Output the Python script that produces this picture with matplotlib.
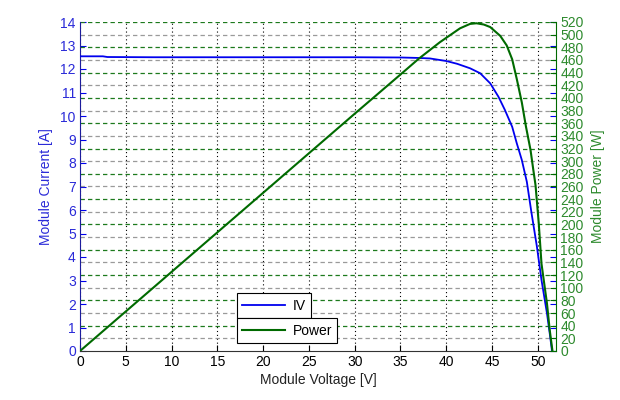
import matplotlib
matplotlib.use('Agg')
import matplotlib.pyplot as plt
from matplotlib.transforms import blended_transform_factory
from matplotlib.lines import Line2D

plt.rcParams['font.family'] = ['Liberation Sans', 'DejaVu Sans']
plt.rcParams['font.size'] = 10

# ---- data ----
iv_voltage = [0, 2.5, 3, 8, 15, 20, 25, 30, 35, 37, 38.2, 40, 41.2, 42.6, 43.7,
              44.8, 45.7, 46.4, 47.2, 47.7, 48.25, 48.8, 49.3, 49.9, 50.4, 51.0,
              51.3, 51.55]
iv_current = [12.54, 12.54, 12.51, 12.50, 12.50, 12.50, 12.50, 12.50, 12.49, 12.47,
              12.45, 12.34, 12.22, 12.03, 11.82, 11.39, 10.82, 10.26, 9.54, 8.84,
              8.13, 7.2, 5.9, 4.44, 3.02, 1.6, 0.75, 0.0]

p_voltage = [0, 1, 3, 5, 10, 15, 20, 25, 30, 35, 37, 39.3, 41.5, 42.6, 43.3, 44.1,
             44.8, 45.9, 46.6, 47.2, 47.7, 48.25, 48.7, 49.2, 49.5, 49.75, 50.1,
             50.4, 51.0, 51.3, 51.6]
p_power = [0, 12.5, 37.5, 62.5, 125, 187.5, 250, 312.5, 375, 437, 462, 488, 510,
           517, 518, 516, 512, 498, 483, 461, 430, 393, 355, 318, 287, 262, 202,
           138, 75, 33, 0]

x_ticks = [0, 5, 10, 15, 20, 25, 30, 35, 40, 45, 50]
current_ticks = [0, 1, 2, 3, 4, 5, 6, 7, 8, 9, 10, 11, 12, 13, 14]
power_ticks = [0, 20, 40, 60, 80, 100, 120, 140, 160, 180, 200, 220, 240, 260,
               280, 300, 320, 340, 360, 380, 400, 420, 440, 460, 480, 500, 520]

x_label = 'Module Voltage [V]'
y_left_label = 'Module Current [A]'
y_right_label = 'Module Power [W]'
legend_iv = 'IV'
legend_power = 'Power'

# ---- styling ----
BLUE = '#0000ee'
BLUE_TXT = '#2a2ad8'
GREEN = '#006a00'
GREEN_TXT = '#2d8a2d'
GRID_GREEN = '#1d7a1d'
GRID_GREY = '#9a9a9a'
FS = 10

fig = plt.figure(figsize=(6.2, 4.0), dpi=100)
ax = fig.add_axes([0.129, 0.1225, 0.768, 0.8225])
ax2 = ax.twinx()

ax.set_xlim(0, 52)
ax.set_ylim(0, 14)
ax2.set_ylim(0, 520)

# horizontal grid (right-axis ticks), drawn on the left axes so the IV line sits on top
trans = blended_transform_factory(ax.transAxes, ax2.transData)
for w in power_ticks[1:]:
    col = GRID_GREEN if w % 40 == 0 else GRID_GREY
    ax.plot([0, 1], [w, w], transform=trans, color=col, lw=0.9,
            linestyle=(0, (3.5, 2.5)), zorder=1)

# vertical grid
ax.set_xticks(x_ticks)
ax.grid(axis='x', color='black', linestyle=(0, (1, 2.5)), linewidth=0.8, zorder=1)
ax.set_axisbelow(True)

ax.plot(iv_voltage, iv_current, color=BLUE, lw=1.3, zorder=3)
ax2.plot(p_voltage, p_power, color=GREEN, lw=1.5, zorder=3)

# ticks
ax.set_yticks(current_ticks)
ax2.set_yticks(power_ticks)
ax.tick_params(axis='x', direction='in', length=4, colors='black', labelsize=FS, pad=3)
ax.tick_params(axis='y', direction='in', length=4, color=BLUE, labelcolor=BLUE_TXT,
               labelsize=FS, pad=3, left=True, right=True)
ax2.tick_params(axis='y', direction='in', length=4, color=GREEN, labelcolor=GREEN_TXT,
                labelsize=FS, pad=3)

# spines
ax.spines['top'].set_visible(False)
ax.spines['right'].set_visible(False)
ax.spines['left'].set_color('#1c1c9c')
ax.spines['bottom'].set_color('#333333')
for s in ('top', 'left', 'bottom'):
    ax2.spines[s].set_visible(False)
ax2.spines['right'].set_color(GREEN)

ax.set_xlabel(x_label, fontsize=FS, color='#222222', labelpad=3)
ax.set_ylabel(y_left_label, fontsize=FS, color=BLUE_TXT, labelpad=5)
ax2.set_ylabel(y_right_label, fontsize=FS, color=GREEN_TXT, labelpad=5)

# two separate legend boxes
common = dict(loc='upper left', bbox_transform=fig.transFigure, frameon=True,
              fancybox=False, edgecolor='black', framealpha=1, borderaxespad=0,
              handlelength=3.1, handletextpad=0.5, borderpad=0.4, fontsize=FS)
leg1 = ax2.legend(handles=[Line2D([], [], color=BLUE, lw=1.3)], labels=[legend_iv],
                  bbox_to_anchor=(0.382, 0.2675), **common)
leg1.get_frame().set_linewidth(0.8)
ax2.add_artist(leg1)
leg2 = ax2.legend(handles=[Line2D([], [], color=GREEN, lw=1.5)], labels=[legend_power],
                  bbox_to_anchor=(0.382, 0.205), **common)
leg2.get_frame().set_linewidth(0.8)

fig.savefig('out.png', dpi=100)
